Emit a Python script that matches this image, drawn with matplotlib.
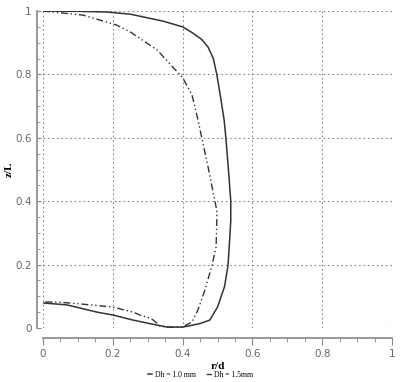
import matplotlib
matplotlib.use('Agg')
import matplotlib.pyplot as plt
from matplotlib.ticker import MultipleLocator

# Dh = 1.0 mm (solid)
r_10 = [0.0, 0.10, 0.18, 0.25, 0.344, 0.40, 0.43, 0.455, 0.473, 0.488, 0.498, 0.51,
        0.519, 0.524, 0.533, 0.538, 0.538, 0.536, 0.533, 0.53, 0.52, 0.50,
        0.478, 0.45, 0.42, 0.40, 0.355, 0.327, 0.258, 0.2, 0.155, 0.068, 0.0]
z_10 = [1.0, 0.999, 0.997, 0.99, 0.968, 0.95, 0.93, 0.91, 0.886, 0.85, 0.80, 0.72,
        0.656, 0.60, 0.476, 0.40, 0.34, 0.30, 0.246, 0.196, 0.13, 0.066,
        0.025, 0.014, 0.007, 0.003, 0.003, 0.009, 0.025, 0.041, 0.05, 0.073, 0.079]

# Dh = 1.5 mm (dash-dot)
r_15 = [0.0, 0.115, 0.21, 0.25, 0.327, 0.372, 0.40, 0.427, 0.444, 0.455, 0.473,
        0.493, 0.498, 0.498, 0.496, 0.484, 0.464, 0.444, 0.427, 0.40, 0.37,
        0.335, 0.316, 0.306, 0.278, 0.258, 0.2, 0.106, 0.04, 0.0]
z_15 = [1.0, 0.987, 0.956, 0.934, 0.877, 0.823, 0.79, 0.735, 0.656, 0.60, 0.508,
        0.397, 0.372, 0.34, 0.256, 0.196, 0.12, 0.057, 0.019, 0.003, 0.002,
        0.006, 0.025, 0.031, 0.041, 0.05, 0.066, 0.076, 0.082, 0.082]

fig = plt.figure(figsize=(4.01, 3.82), dpi=100)
ax = fig.add_axes([43/401, 1 - 328/382, 349/401, 317/382])

ax.plot(r_10, z_10, color='#333333', lw=1.1, ls='-', label='Dh = 1.0 mm')
ax.plot(r_15, z_15, color='#333333', lw=1.0, ls=(0, (5, 2, 1, 2, 1, 2)), label='Dh = 1.5mm')

ax.set_xlim(0, 1)
ax.set_ylim(0, 1)
ax.xaxis.set_major_locator(MultipleLocator(0.2))
ax.yaxis.set_major_locator(MultipleLocator(0.2))
ax.xaxis.set_minor_locator(MultipleLocator(0.05))
ax.yaxis.set_minor_locator(MultipleLocator(0.05))
ax.xaxis.set_major_formatter(plt.FuncFormatter(lambda v, p: '%g' % round(v, 2)))
ax.yaxis.set_major_formatter(plt.FuncFormatter(lambda v, p: '%g' % round(v, 2)))

ax.grid(True, which='major', color='#888888', ls=(0, (1.5, 2.5)), lw=0.8)

for s in ['top', 'right']:
    ax.spines[s].set_visible(False)
ax.spines['left'].set_position(('outward', 4))
ax.spines['bottom'].set_position(('outward', 7))
for s in ['left', 'bottom']:
    ax.spines[s].set_color('#888888')
    ax.spines[s].set_linewidth(1.2)

ax.tick_params(axis='x', which='major', direction='out', length=5, color='#888888',
               labelsize=7.5, labelcolor='#666666', pad=3)
ax.tick_params(axis='x', which='minor', direction='out', length=3, color='#888888')
ax.tick_params(axis='y', which='major', direction='in', length=3, color='#888888',
               labelsize=7.5, labelcolor='#666666', pad=4)
ax.tick_params(axis='y', which='minor', direction='in', length=2, color='#888888')

ax.set_xlabel('r/d', family='Liberation Serif', fontweight='bold', fontsize=8, labelpad=2)
ax.set_ylabel('z/L', family='Liberation Serif', fontweight='bold', fontsize=8)
ax.yaxis.set_label_coords(-29/349, 0.5)

fig.legend(loc='center', bbox_to_anchor=(0.5, 1 - 375/382), ncol=2, frameon=False,
           handlelength=0.5, handletextpad=0.4, columnspacing=1.5,
           prop={'family': 'Liberation Serif', 'size': 5.5})
leg = fig.legends[0]
for h in leg.legend_handles:
    h.set_linestyle('-')

fig.savefig('out.png', dpi=100)
